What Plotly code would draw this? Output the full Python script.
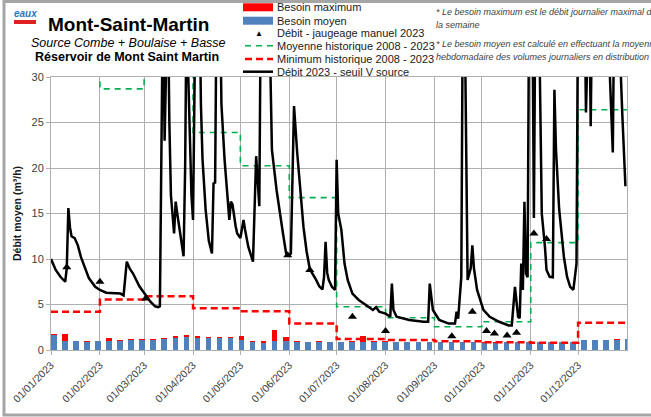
import plotly.graph_objects as go
import pandas as pd

# ---------------- data ----------------
month_starts = ["2023-01-01", "2023-02-01", "2023-03-01", "2023-04-01", "2023-05-01", "2023-06-01",
                "2023-07-01", "2023-08-01", "2023-09-01", "2023-10-01", "2023-11-01", "2023-12-01"]
tick_labels = ["01/01/2023", "01/02/2023", "01/03/2023", "01/04/2023", "01/05/2023", "01/06/2023",
               "01/07/2023", "01/08/2023", "01/09/2023", "01/10/2023", "01/11/2023", "01/12/2023"]

moyenne_hist = [35, 28.7, 38, 23.9, 20.25, 16.75, 4.75, 3.55, 2.55, 3.1, 11.8, 26.4]
minimum_hist = [4.2, 5.55, 5.9, 4.6, 4.27, 2.9, 1.2, 1.1, 0.95, 0.85, 0.8, 3.0]

besoin_max = [1.75, 1.8, 1.0, 0.95, 1.0, 1.3, 1.05, 1.2, 1.2, 1.2,
              1.3, 1.5, 1.6, 1.5, 1.4, 1.4, 1.4, 1.55, 0.95, 0.95,
              2.2, 1.45, 0.95, 0.9, 0.95, 0.92, 0.92, 0.95, 1.55, 0.95,
              0.95, 0.92, 0.92, 0.92, 0.92, 0.92, 0.92, 0.92, 0.92, 0.92,
              0.92, 0.92, 0.92, 0.92, 0.92, 0.92, 0.92, 0.92, 1.15, 1.15,
              1.15, 1.2, 1.25]
besoin_moy = [1.7, 1.0, 0.95, 0.9, 0.95, 0.95, 1.0, 1.1, 1.12, 1.12,
              1.18, 1.3, 1.38, 1.3, 1.3, 1.3, 1.3, 1.1, 0.88, 0.75,
              0.95, 0.95, 0.9, 0.88, 0.9, 0.88, 0.88, 0.88, 0.88, 0.88,
              0.85, 0.85, 0.85, 0.85, 0.85, 0.85, 0.85, 0.85, 0.85, 0.82,
              0.82, 0.85, 0.85, 0.85, 0.85, 0.85, 0.85, 0.88, 1.1, 1.1,
              1.12, 1.15, 1.2]
week_x = pd.date_range("2023-01-01", periods=len(besoin_moy), freq="7D") + pd.Timedelta(hours=42)

debit_dates = [
    "2023-01-01", "2023-01-04", "2023-01-07", "2023-01-09", "2023-01-10", "2023-01-11", "2023-01-12",
    "2023-01-13", "2023-01-14", "2023-01-16", "2023-01-18", "2023-01-20", "2023-01-23", "2023-01-25",
    "2023-01-29", "2023-02-01", "2023-02-05", "2023-02-10", "2023-02-14", "2023-02-16", "2023-02-17",
    "2023-02-18", "2023-02-20", "2023-02-22", "2023-02-26", "2023-03-02", "2023-03-05", "2023-03-08",
    "2023-03-10", "2023-03-11", "2023-03-12", "2023-03-13", "2023-03-14", "2023-03-15", "2023-03-16",
    "2023-03-17", "2023-03-18", "2023-03-20", "2023-03-21", "2023-03-22", "2023-03-24", "2023-03-26",
    "2023-03-27", "2023-03-28", "2023-03-29", "2023-03-30", "2023-03-31", "2023-04-01", "2023-04-02",
    "2023-04-03", "2023-04-05", "2023-04-06", "2023-04-07", "2023-04-09", "2023-04-11", "2023-04-13",
    "2023-04-14", "2023-04-15", "2023-04-16", "2023-04-18", "2023-04-19", "2023-04-21", "2023-04-23",
    "2023-04-24", "2023-04-25", "2023-04-26", "2023-04-28", "2023-04-29", "2023-05-01", "2023-05-03",
    "2023-05-04", "2023-05-06", "2023-05-09", "2023-05-11", "2023-05-13", "2023-05-14", "2023-05-19",
    "2023-05-21", "2023-05-24", "2023-05-26", "2023-05-28", "2023-05-30", "2023-06-01", "2023-06-02",
    "2023-06-03", "2023-06-04", "2023-06-06", "2023-06-08", "2023-06-10", "2023-06-12", "2023-06-14",
    "2023-06-18", "2023-06-20", "2023-06-22", "2023-06-23", "2023-06-24", "2023-06-25", "2023-06-26",
    "2023-06-28", "2023-06-30", "2023-07-01", "2023-07-02", "2023-07-04", "2023-07-06", "2023-07-08",
    "2023-07-11", "2023-07-15", "2023-07-20", "2023-07-24", "2023-07-26", "2023-07-28", "2023-08-01",
    "2023-08-04", "2023-08-05", "2023-08-06", "2023-08-08", "2023-08-16", "2023-08-25", "2023-08-28",
    "2023-08-29", "2023-08-31", "2023-09-04", "2023-09-10", "2023-09-14", "2023-09-15", "2023-09-16",
    "2023-09-18", "2023-09-19", "2023-09-20", "2023-09-22", "2023-09-24", "2023-09-25", "2023-09-26",
    "2023-09-28", "2023-10-02", "2023-10-06", "2023-10-12", "2023-10-18", "2023-10-20", "2023-10-22",
    "2023-10-24", "2023-10-25", "2023-10-26", "2023-10-27", "2023-10-28", "2023-10-29", "2023-10-30",
    "2023-10-31", "2023-11-02", "2023-11-03", "2023-11-04", "2023-11-06", "2023-11-08", "2023-11-10",
    "2023-11-11", "2023-11-13", "2023-11-15", "2023-11-16", "2023-11-17", "2023-11-19", "2023-11-22",
    "2023-11-24", "2023-11-26", "2023-11-28", "2023-11-30", "2023-12-01", "2023-12-05", "2023-12-06",
    "2023-12-07", "2023-12-08", "2023-12-09", "2023-12-10", "2023-12-19", "2023-12-23", "2023-12-24",
    "2023-12-26", "2023-12-29", "2023-12-31"]
debit_vals = [
    10.0, 8.8, 8.05, 7.6, 7.5, 9.0, 15.6,
    13.5, 12.5, 12.3, 11.5, 10.2, 8.8, 7.9,
    6.95, 6.6, 6.3, 6.2, 6.2, 6.0, 7.7,
    9.7, 8.9, 8.4, 7.0, 6.0, 5.3, 4.8,
    4.7, 4.8, 23, 40, 23, 40, 40,
    25, 17, 12.8, 16.3, 15, 12.5, 10.3,
    20, 40, 30, 22, 17, 14.3, 30,
    45, 40, 27, 21, 15.4, 12.0, 10.6,
    18.3, 18.4, 40, 40, 27, 20.9, 16.5,
    14.3, 16.3, 16.0, 13.6, 12.8, 12.3, 14.3,
    13.2, 11.35, 9.7, 21.3, 15.8, 40, 40,
    22, 17.5, 15, 12.8, 10.6, 10.4, 10.6,
    20, 26.8, 21.7, 17.2, 13.5, 10.8, 8.9,
    7.7, 7.0, 6.65, 8.0, 11.9, 8.5, 7.7,
    6.95, 6.6, 20.9, 15.0, 13.2, 9.5, 7.7,
    6.2, 5.5, 4.9, 4.4, 4.7, 4.2, 4.0,
    3.65, 7.3, 4.4, 3.65, 3.3, 3.1, 3.1,
    7.3, 4.4, 3.3, 2.9, 2.9, 4.2, 3.45,
    8, 40, 40, 7.7, 9, 11.5, 9,
    6.6, 4.4, 3.65, 3.1, 2.7, 2.7, 6.95,
    3.65, 3.5, 9.5, 6.6, 16.3, 8.4, 8.0,
    40, 40, 14.5, 40, 40, 15, 11.35,
    8.8, 8.05, 8.0, 28.6, 22, 15.5, 10.25,
    8.05, 6.95, 6.6, 9.5, 40, 40, 26.1,
    40, 40, 24.6, 40, 40, 21.7, 40,
    40, 26, 18.0]

jaug_dates = ["2023-01-11", "2023-02-01", "2023-03-02", "2023-05-31", "2023-06-14", "2023-07-11",
              "2023-08-01", "2023-09-12", "2023-09-25", "2023-10-04", "2023-10-09", "2023-10-17",
              "2023-10-23", "2023-11-03", "2023-11-11"]
jaug_vals = [9.1, 7.5, 5.65, 10.4, 8.8, 3.65, 2.1, 1.5, 4.2, 2.1, 1.8, 1.6, 1.9, 12.8, 12.2]

# ---------------- layout helpers ----------------
W, H = 651, 417
ML, MR, MT, MB = 51, 24, 77, 67
PW, PH = W - ML - MR, H - MT - MB


def xp(px):
    return (px - ML) / PW


def yp(py):
    return (H - MB - py) / PH


FONT = "Liberation Sans, Arial, sans-serif"
GRID = "#B0B0B0"
step_x = month_starts + ["2024-01-01"]

fig = go.Figure()
fig.add_bar(x=week_x, y=besoin_max, width=3.5 * 86400000, marker_color="#FF0000",
            marker_line_width=0, name="Besoin maximum")
fig.add_bar(x=week_x, y=besoin_moy, width=3.5 * 86400000, marker_color="#4F81BD",
            marker_line_width=0, name="Besoin moyen")
fig.add_scatter(x=step_x, y=minimum_hist + [minimum_hist[-1]], mode="lines",
                line=dict(color="#FF0000", width=2.5, dash="7px,4px", shape="hv"),
                name="Minimum historique 2008 - 2023")
fig.add_scatter(x=step_x, y=moyenne_hist + [moyenne_hist[-1]], mode="lines",
                line=dict(color="#00B050", width=1.6, dash="6px,5px", shape="hv"),
                name="Moyenne historique 2008 - 2023")
fig.add_scatter(x=debit_dates, y=debit_vals, mode="lines",
                line=dict(color="black", width=2.5), name="Débit 2023 - seuil V source")
fig.add_scatter(x=jaug_dates, y=jaug_vals, mode="markers",
                marker=dict(symbol="triangle-up", size=8, color="black"),
                name="Débit - jaugeage manuel 2023")

fig.update_layout(
    width=W, height=H, margin=dict(l=ML, r=MR, t=MT, b=MB),
    paper_bgcolor="white", plot_bgcolor="white",
    barmode="overlay", bargap=0, showlegend=False,
    font=dict(family=FONT, color="#404040"),
)
fig.update_xaxes(type="date", range=["2023-01-01", "2024-01-01"],
                 tickvals=month_starts, ticktext=tick_labels, tickangle=-45,
                 tickfont=dict(size=10.5, color="#404040", family=FONT),
                 showgrid=True, gridcolor=GRID, gridwidth=1,
                 showline=True, linecolor=GRID, linewidth=1, mirror=True,
                 ticks="outside", ticklen=4, tickcolor=GRID, zeroline=False, automargin=False)
fig.update_yaxes(range=[0, 30], tickvals=[0, 5, 10, 15, 20, 25, 30],
                 tickfont=dict(size=11, color="#404040", family=FONT),
                 showgrid=True, gridcolor=GRID, gridwidth=1,
                 showline=True, linecolor=GRID, linewidth=1, mirror=True,
                 ticks="outside", ticklen=4, tickcolor=GRID, zeroline=False, automargin=False)

shapes = []
ann = []

# outer frame
shapes.append(dict(type="rect", xref="paper", yref="paper", x0=xp(4), x1=xp(720),
                   y0=yp(415), y1=yp(1.5), line=dict(color="#A5A5A5", width=3)))

# titles
ann.append(dict(text="<b>Mont-Saint-Martin</b>", x=xp(128), y=yp(24), font=dict(size=19, color="black")))
ann.append(dict(text="<i>Source Combe + Boulaise + Basse</i>", x=xp(128), y=yp(42.5),
                font=dict(size=12.5, color="black")))
ann.append(dict(text="<b>Réservoir de Mont Saint Martin</b>", x=xp(127), y=yp(56.5),
                font=dict(size=12.5, color="black")))
# logo
ann.append(dict(text="<b><i>eaux</i></b>", x=xp(25), y=yp(14), font=dict(size=10, color="#2E75B6")))
shapes.append(dict(type="rect", xref="paper", yref="paper", x0=xp(14), x1=xp(36),
                   y0=yp(24), y1=yp(20), line=dict(width=0), fillcolor="#E02020"))

# y title
ann.append(dict(text="<b>Débit moyen (m³/h)</b>", x=xp(17), y=yp(214), textangle=-90,
                font=dict(size=10.5, color="#1a1a1a")))

# custom legend
rows = [7.3, 20.7, 33.3, 45.7, 59.0, 71.7]
labels = ["Besoin maximum", "Besoin moyen", "Débit - jaugeage manuel 2023",
          "Moyenne historique 2008 - 2023", "Minimum historique 2008 - 2023",
          "Débit 2023 - seuil V source"]
shapes.append(dict(type="rect", xref="paper", yref="paper", x0=xp(243), x1=xp(273),
                   y0=yp(rows[0] + 4), y1=yp(rows[0] - 4), line=dict(width=0), fillcolor="#FF0000"))
shapes.append(dict(type="rect", xref="paper", yref="paper", x0=xp(243), x1=xp(273),
                   y0=yp(rows[1] + 4), y1=yp(rows[1] - 4), line=dict(width=0), fillcolor="#4F81BD"))
ann.append(dict(text="▲", x=xp(259), y=yp(rows[2]), font=dict(size=8, color="black")))
shapes.append(dict(type="line", xref="paper", yref="paper", x0=xp(245), x1=xp(273),
                   y0=yp(rows[3]), y1=yp(rows[3]), line=dict(color="#00B050", width=1.6, dash="6px,5px")))
shapes.append(dict(type="line", xref="paper", yref="paper", x0=xp(245), x1=xp(273),
                   y0=yp(rows[4]), y1=yp(rows[4]), line=dict(color="#FF0000", width=2.5, dash="7px,4px")))
shapes.append(dict(type="line", xref="paper", yref="paper", x0=xp(243), x1=xp(273),
                   y0=yp(rows[5]), y1=yp(rows[5]), line=dict(color="black", width=2.5)))
for r, lab in zip(rows, labels):
    ann.append(dict(text=lab, x=xp(275), y=yp(r), xanchor="left", font=dict(size=11, color="#1a1a1a")))

# notes
notes = [(12, "* Le besoin maximum est le débit journalier maximal de"),
         (25, "la semaine"),
         (44, "* Le besoin moyen est calculé en effectuant la moyenne"),
         (57, "hebdomadaire des volumes journaliers en distribution")]
for py, t in notes:
    ann.append(dict(text="<i>" + t + "</i>", x=xp(434), y=yp(py), xanchor="left",
                    font=dict(size=9, color="#404040")))

for a in ann:
    a.setdefault("xref", "paper")
    a.setdefault("yref", "paper")
    a.setdefault("showarrow", False)
    a.setdefault("xanchor", "center")
    a.setdefault("yanchor", "middle")

fig.update_layout(shapes=shapes, annotations=ann)
fig.write_html("out.html", config={"displayModeBar": False},
               post_script="document.body.style.margin='0';document.body.style.overflow='hidden';")
